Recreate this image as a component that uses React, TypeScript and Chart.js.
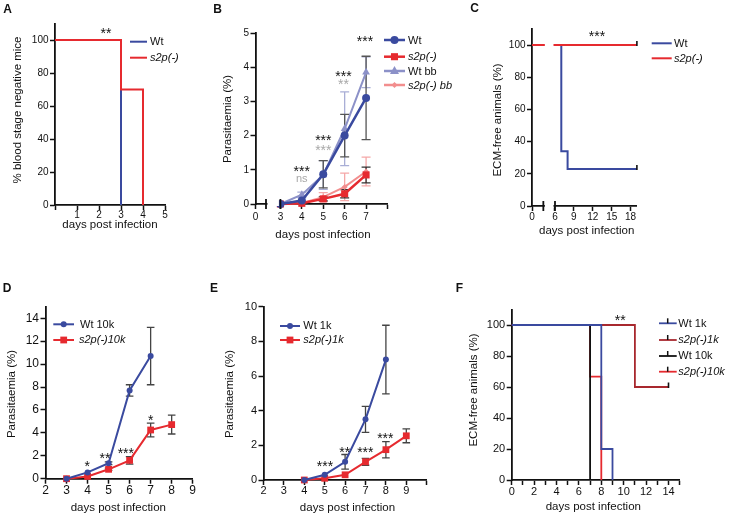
import React, { useEffect, useRef } from 'react';
import { Chart, registerables } from 'chart.js';
Chart.register(...registerables);

const W = 733, H = 516;
const FF = '"Liberation Sans", Arial, Helvetica, sans-serif';
const BLUE = '#3A4A9F';
const RED = '#E62A2F';
const DARKRED = '#A8282E';
const LBLUE = '#8C91C8';
const PINK = '#F28E8E';
const GREY = '#A8A8A8';
const INK = '#111';

// ---------- Panel A ----------
const A_WT_DAYS = [0, 3];
const A_WT_PCT = [100, 0];
const A_S2P_DAYS = [0, 3, 4];
const A_S2P_PCT = [100, 70, 0];
const A_X_TICKS = [0, 1, 2, 3, 4, 5];
const A_X_LABELS = ['', '1', '2', '3', '4', '5'];
const PCT_TICKS = [0, 20, 40, 60, 80, 100];
const PCT_LABELS = ['0', '20', '40', '60', '80', '100'];

// ---------- Panel B ----------
const B_DAYS = [3, 4, 5, 6, 7];
const B_WT = [0, 0.1, 0.87, 2.0, 3.1];
const B_WT_SD = [0, 0, 0.4, 0.62, 1.22];
const B_S2P = [0, 0.02, 0.15, 0.3, 0.85];
const B_S2P_SD = [0, 0, 0.06, 0.12, 0.23];
const B_WTBB = [0, 0.27, 0.85, 2.2, 3.85];
const B_WTBB_SD = [0, 0.08, 0.42, 1.08, 0.45];
const B_S2PBB = [0, 0.03, 0.2, 0.5, 0.95];
const B_S2PBB_SD = [0, 0, 0.13, 0.4, 0.42];
const B_X_TICKS = [0, 3, 4, 5, 6, 7, 8];
const B_X_LABELS = ['0', '3', '4', '5', '6', '7', ''];
const B_Y_TICKS = [0, 1, 2, 3, 4, 5];
const B_Y_LABELS = ['0', '1', '2', '3', '4', '5'];

// ---------- Panel C ----------
const C_WT_DAYS = [0, 7, 8, 19];
const C_WT_PCT = [100, 34, 23, 23];
const C_S2P_DAYS = [0, 19];
const C_S2P_PCT = [100, 100];
const C_X_TICKS = [0, 6, 9, 12, 15, 18];
const C_X_LABELS = ['0', '6', '9', '12', '15', '18'];

// ---------- Panel D ----------
const D_WT_DAYS = [3, 4, 5, 6, 7];
const D_WT = [0, 0.55, 1.35, 7.7, 10.7];
const D_WT_SD = [0, 0, 0.12, 0.5, 2.5];
const D_S2P_DAYS = [3, 4, 5, 6, 7, 8];
const D_S2P = [0, 0.2, 0.82, 1.6, 4.25, 4.72];
const D_S2P_SD = [0, 0, 0.1, 0.32, 0.6, 0.82];
const D_X_TICKS = [2, 3, 4, 5, 6, 7, 8, 9];
const D_X_LABELS = ['2', '3', '4', '5', '6', '7', '8', '9'];
const D_Y_TICKS = [0, 2, 4, 6, 8, 10, 12, 14];
const D_Y_LABELS = ['0', '2', '4', '6', '8', '10', '12', '14'];

// ---------- Panel E ----------
const E_WT_DAYS = [4, 5, 6, 7, 8];
const E_WT = [0, 0.3, 1.05, 3.5, 6.95];
const E_WT_SD = [0, 0, 0.42, 0.75, 1.98];
const E_S2P_DAYS = [4, 5, 6, 7, 8, 9];
const E_S2P = [0, 0.1, 0.3, 1.05, 1.75, 2.55];
const E_S2P_SD = [0, 0, 0, 0.2, 0.47, 0.4];
const E_X_TICKS = [2, 3, 4, 5, 6, 7, 8, 9, 10];
const E_X_LABELS = ['2', '3', '4', '5', '6', '7', '8', '9', ''];
const E_Y_TICKS = [0, 2, 4, 6, 8, 10];
const E_Y_LABELS = ['0', '2', '4', '6', '8', '10'];

// ---------- Panel F ----------
const F_WT1_DAYS = [0, 8, 9];
const F_WT1_PCT = [100, 20, 0];
const F_S2P1_DAYS = [0, 11, 14];
const F_S2P1_PCT = [100, 60, 60];
const F_WT10_DAYS = [0, 7];
const F_WT10_PCT = [100, 0];
const F_S2P10_DAYS = [0, 7, 8];
const F_S2P10_PCT = [100, 66.7, 0];
const F_X_TICKS = [0, 1, 2, 3, 4, 5, 6, 7, 8, 9, 10, 11, 12, 13, 14, 15];
const F_X_LABELS = ['0', '', '2', '', '4', '', '6', '', '8', '', '10', '', '12', '', '14', ''];

// broken axis mappings (day -> axis position)
const B_SEG2 = 1.163;
const bx = (d: number) => (d >= 3 ? d - 3 + B_SEG2 : d);
const C_SEG2 = 3.65;
const cx = (d: number) => (d >= 6 ? d - 6 + C_SEG2 : d);

type Box = { l: number; t: number; r: number; b: number };
type ErrSet = { x: number[]; y: number[]; e: number[]; color: string; cap: number; lw?: number };
type Spec = {
  box: Box;
  xMin: number; xMax: number; yMin: number; yMax: number;
  xTicks: number[]; xLabels: string[];
  yTicks: number[]; yLabels: string[];
  tickSize: number;
  xPad: number;
  datasets: any[];
  errs?: ErrSet[];
  draw?: (ctx: CanvasRenderingContext2D, chart: any) => void;
};

const YW = 40, XH = 30;

function axis(ticks: number[], labels: string[], size: number, pad: number) {
  return {
    type: 'linear',
    border: { display: true, color: INK, width: 1.8 },
    grid: { display: true, drawOnChartArea: false, drawTicks: true, tickLength: 5, tickWidth: 1.5, tickColor: INK, color: INK },
    ticks: {
      autoSkip: false, maxRotation: 0, minRotation: 0, padding: pad, color: INK,
      font: { family: FF, size },
      callback: (_v: number, i: number) => labels[i] ?? '',
    },
    afterBuildTicks: (s: any) => { s.ticks = ticks.map((v) => ({ value: v })); },
  };
}

function drawErr(chart: any, set: ErrSet) {
  const { ctx } = chart;
  const xs = chart.scales.x, ys = chart.scales.y;
  ctx.save();
  ctx.strokeStyle = set.color;
  ctx.lineWidth = set.lw ?? 1.3;
  set.x.forEach((xv, i) => {
    const v = set.y[i], e = set.e[i];
    if (v == null || !e) return;
    const px = xs.getPixelForValue(xv);
    const y1 = ys.getPixelForValue(v + e);
    const y2 = ys.getPixelForValue(Math.max(v - e, 0));
    ctx.beginPath();
    ctx.moveTo(px, y1); ctx.lineTo(px, y2);
    ctx.moveTo(px - set.cap, y1); ctx.lineTo(px + set.cap, y1);
    ctx.moveTo(px - set.cap, y2); ctx.lineTo(px + set.cap, y2);
    ctx.stroke();
  });
  ctx.restore();
}

function makeConfig(spec: Spec): any {
  const { box } = spec;
  return {
    type: 'line',
    data: { datasets: spec.datasets },
    options: {
      responsive: false,
      animation: false,
      devicePixelRatio: 1,
      events: [],
      layout: { padding: { left: box.l - YW, top: box.t, right: W - box.r, bottom: H - box.b - XH } },
      plugins: { legend: { display: false }, tooltip: { enabled: false } },
      scales: {
        x: { ...axis(spec.xTicks, spec.xLabels, spec.tickSize, spec.xPad), position: 'bottom', min: spec.xMin, max: spec.xMax, afterFit: (s: any) => { s.height = XH; } },
        y: { ...axis(spec.yTicks, spec.yLabels, spec.tickSize, 1.5), position: 'left', min: spec.yMin, max: spec.yMax, afterFit: (s: any) => { s.width = YW; } },
      },
    },
    plugins: [{
      id: 'extras',
      beforeDatasetsDraw(chart: any) { (spec.errs || []).forEach((s) => drawErr(chart, s)); },
      afterDraw(chart: any) { spec.draw && spec.draw(chart.ctx, chart); },
    }],
  };
}

function ds(label: string, xs: number[], ys: number[], color: string, extra: any = {}) {
  return {
    label,
    data: xs.map((x, i) => ({ x, y: ys[i] })),
    borderColor: color,
    backgroundColor: color,
    borderWidth: 2,
    pointRadius: 0,
    pointBorderWidth: 0,
    tension: 0,
    clip: false,
    ...extra,
  };
}

// ---------- drawing helpers ----------
function text(ctx: CanvasRenderingContext2D, s: string, x: number, y: number, font: string, color = INK, align: CanvasTextAlign = 'center', rot = 0) {
  ctx.save();
  ctx.translate(x, y);
  if (rot) ctx.rotate(rot);
  ctx.font = font;
  ctx.fillStyle = color;
  ctx.textAlign = align;
  ctx.textBaseline = 'middle';
  ctx.fillText(s, 0, 0);
  ctx.restore();
}
const TITLE = `11.5px ${FF}`;
const LEG = `11px ${FF}`;
const LEGI = `italic 11px ${FF}`;
function letter(ctx: CanvasRenderingContext2D, s: string, x: number, y: number) {
  ctx.save();
  ctx.font = `bold 12px ${FF}`;
  ctx.fillStyle = INK;
  ctx.textAlign = 'center';
  ctx.textBaseline = 'alphabetic';
  ctx.fillText(s, x, y + 4.3);
  ctx.restore();
}
function stars(ctx: CanvasRenderingContext2D, s: string, x: number, y: number, color = INK) {
  ctx.save();
  ctx.font = `14px ${FF}`;
  ctx.fillStyle = color;
  ctx.textAlign = 'center';
  ctx.textBaseline = 'alphabetic';
  ctx.fillText(s, x, y + 8);
  ctx.restore();
}
function xTitle(ctx: CanvasRenderingContext2D, x: number, y: number) { text(ctx, 'days post infection', x, y, TITLE); }
function yTitle(ctx: CanvasRenderingContext2D, s: string, x: number, y: number) { text(ctx, s, x, y, TITLE, INK, 'center', -Math.PI / 2); }

function marker(ctx: CanvasRenderingContext2D, kind: string, x: number, y: number, r: number, color: string) {
  ctx.save();
  ctx.fillStyle = color;
  ctx.beginPath();
  if (kind === 'circle') ctx.arc(x, y, r, 0, Math.PI * 2);
  else if (kind === 'rect') { const h = r * Math.SQRT1_2; ctx.rect(x - h, y - h, 2 * h, 2 * h); }
  else if (kind === 'triangle') { ctx.moveTo(x, y - r * 1.1); ctx.lineTo(x + r, y + r * 0.65); ctx.lineTo(x - r, y + r * 0.65); ctx.closePath(); }
  else if (kind === 'rectRot') { ctx.moveTo(x, y - r); ctx.lineTo(x + r, y); ctx.lineTo(x, y + r); ctx.lineTo(x - r, y); ctx.closePath(); }
  ctx.fill();
  ctx.restore();
}
function legLine(ctx: CanvasRenderingContext2D, x1: number, x2: number, y: number, color: string, lw = 2) {
  ctx.save();
  ctx.strokeStyle = color;
  ctx.lineWidth = lw;
  ctx.beginPath();
  ctx.moveTo(x1, y); ctx.lineTo(x2, y);
  ctx.stroke();
  ctx.restore();
}
function vline(ctx: CanvasRenderingContext2D, x: number, y1: number, y2: number, color = INK, lw = 1.8) {
  ctx.save();
  ctx.strokeStyle = color;
  ctx.lineWidth = lw;
  ctx.beginPath();
  ctx.moveTo(x, y1); ctx.lineTo(x, y2);
  ctx.stroke();
  ctx.restore();
}
function axisBreak(ctx: CanvasRenderingContext2D, chart: any, p1: number, p2: number) {
  const xs = chart.scales.x;
  const a = xs.getPixelForValue(p1), b = xs.getPixelForValue(p2);
  const base = chart.chartArea.bottom;
  ctx.save();
  ctx.fillStyle = '#fff';
  ctx.fillRect(a + 1.5, chart.chartArea.top - 2, b - a - 3, base - chart.chartArea.top + 4);
  ctx.restore();
  vline(ctx, a, base - 5, base + 5);
  vline(ctx, b, base - 5, base + 5);
}

// ---------- panel specs ----------
const specA = (): Spec => ({
  box: { l: 55, t: 23.5, r: 165, b: 205 },
  xMin: 0, xMax: 5, yMin: 0, yMax: 110,
  xTicks: A_X_TICKS, xLabels: A_X_LABELS, yTicks: PCT_TICKS, yLabels: PCT_LABELS, tickSize: 10, xPad: -0.5,
  datasets: [
    ds('s2p(-)', A_S2P_DAYS, A_S2P_PCT, RED, { stepped: true }),
    ds('Wt', A_WT_DAYS, A_WT_PCT, BLUE, { stepped: true }),
  ],
  draw: (ctx) => {
    letter(ctx, 'A', 7.5, 8.5);
    yTitle(ctx, '% blood stage negative mice', 18, 110);
    xTitle(ctx, 110, 225);
    stars(ctx, '**', 106, 29.5);
    legLine(ctx, 130, 147, 41.7, BLUE);
    text(ctx, 'Wt', 150, 42, LEG, INK, 'left');
    legLine(ctx, 130, 147, 57.7, RED);
    text(ctx, 's2p(-)', 150, 58, LEGI, INK, 'left');
  },
});

const specB = (): Spec => {
  const xs = B_DAYS.map(bx);
  return {
    box: { l: 255.5, t: 33, r: 387.5, b: 204 },
    xMin: 0, xMax: bx(8), yMin: 0, yMax: 5,
    xTicks: B_X_TICKS.map(bx), xLabels: B_X_LABELS, yTicks: B_Y_TICKS, yLabels: B_Y_LABELS, tickSize: 10, xPad: 2,
    datasets: [
      ds('Wt', xs, B_WT, BLUE, { borderWidth: 2.5, pointRadius: 4, pointStyle: 'circle' }),
      ds('s2p(-)', xs, B_S2P, RED, { borderWidth: 2.5, pointRadius: 5, pointStyle: 'rect' }),
      ds('Wt bb', xs, B_WTBB, LBLUE, { borderWidth: 2, pointRadius: 4.5, pointStyle: 'triangle' }),
      ds('s2p(-) bb', xs, B_S2PBB, PINK, { borderWidth: 2, pointRadius: 3, pointStyle: 'rectRot' }),
    ],
    errs: [
      { x: xs, y: B_S2PBB, e: B_S2PBB_SD, color: '#F5A8A8', cap: 4.5 },
      { x: xs, y: B_WTBB, e: B_WTBB_SD, color: '#A9AED6', cap: 4.5 },
      { x: xs, y: B_S2P, e: B_S2P_SD, color: '#333', cap: 4.5 },
      { x: xs, y: B_WT, e: B_WT_SD, color: '#555', cap: 4.5 },
    ],
    draw: (ctx, chart) => {
      axisBreak(ctx, chart, 0.49, bx(3));
      letter(ctx, 'B', 217.5, 8.5);
      yTitle(ctx, 'Parasitaemia (%)', 228, 119);
      xTitle(ctx, 323, 235);
      stars(ctx, '***', 301.7, 168);
      text(ctx, 'ns', 301.7, 178.5, `11px ${FF}`, GREY);
      stars(ctx, '***', 323.3, 137);
      stars(ctx, '***', 323.3, 147, GREY);
      stars(ctx, '***', 343.5, 72.7);
      stars(ctx, '**', 343.5, 81, GREY);
      stars(ctx, '***', 365, 38);
      const items: [string, string, string, number, number, string][] = [
        ['Wt', BLUE, 'circle', 4, 40, LEG],
        ['s2p(-)', RED, 'rect', 5, 56.7, LEGI],
        ['Wt bb', LBLUE, 'triangle', 4.5, 71, LEG],
        ['s2p(-) bb', PINK, 'rectRot', 3, 85, LEGI],
      ];
      items.forEach(([s, col, k, r, y, f]) => {
        legLine(ctx, 384, 405, y, col, 2.5);
        marker(ctx, k, 394.5, y, r, col);
        text(ctx, s, 408, y + 0.5, f, INK, 'left');
      });
    },
  };
};

const specC = (): Spec => ({
  box: { l: 532, t: 29, r: 532 + cx(19) * 6.3, b: 206 },
  xMin: 0, xMax: cx(19), yMin: 0, yMax: 110,
  xTicks: C_X_TICKS.map(cx), xLabels: C_X_LABELS, yTicks: PCT_TICKS, yLabels: PCT_LABELS, tickSize: 10, xPad: 0,
  datasets: [
    ds('s2p(-)', C_S2P_DAYS.map(cx), C_S2P_PCT, RED, { stepped: true }),
    ds('Wt', C_WT_DAYS.map(cx), C_WT_PCT, BLUE, { stepped: true }),
  ],
  draw: (ctx, chart) => {
    axisBreak(ctx, chart, 1.8, cx(6));
    const xs = chart.scales.x, ys = chart.scales.y;
    const ex = xs.getPixelForValue(cx(19));
    vline(ctx, ex, ys.getPixelForValue(100) - 4, ys.getPixelForValue(100) + 1, INK, 1.6);
    vline(ctx, ex, ys.getPixelForValue(23) - 4, ys.getPixelForValue(23) + 1, INK, 1.6);
    letter(ctx, 'C', 474.5, 8);
    yTitle(ctx, 'ECM-free animals (%)', 498, 120);
    xTitle(ctx, 586.7, 231);
    stars(ctx, '***', 597, 33.3);
    legLine(ctx, 651.7, 671.7, 43.3, BLUE);
    text(ctx, 'Wt', 674, 43.5, LEG, INK, 'left');
    legLine(ctx, 651.7, 671.7, 58.3, RED);
    text(ctx, 's2p(-)', 674, 58.5, LEGI, INK, 'left');
  },
});

const specD = (): Spec => ({
  box: { l: 45.5, t: 306.8, r: 192.7, b: 478.7 },
  xMin: 2, xMax: 9, yMin: 0, yMax: 15,
  xTicks: D_X_TICKS, xLabels: D_X_LABELS, yTicks: D_Y_TICKS, yLabels: D_Y_LABELS, tickSize: 12, xPad: 0,
  datasets: [
    ds('Wt 10k', D_WT_DAYS, D_WT, BLUE, { pointRadius: 3, pointStyle: 'circle' }),
    ds('s2p(-)10k', D_S2P_DAYS, D_S2P, RED, { pointRadius: 4.8, pointStyle: 'rect' }),
  ],
  errs: [
    { x: D_S2P_DAYS, y: D_S2P, e: D_S2P_SD, color: '#444', cap: 3.8 },
    { x: D_WT_DAYS, y: D_WT, e: D_WT_SD, color: '#444', cap: 3.8 },
  ],
  draw: (ctx) => {
    letter(ctx, 'D', 7.2, 287.5);
    yTitle(ctx, 'Parasitaemia (%)', 11.7, 394);
    xTitle(ctx, 118.3, 508);
    stars(ctx, '*', 87.3, 463.3);
    stars(ctx, '**', 105, 455);
    stars(ctx, '***', 125.8, 450);
    stars(ctx, '*', 150.7, 416.7);
    legLine(ctx, 53.3, 74, 324.3, BLUE);
    marker(ctx, 'circle', 63.7, 324.3, 3, BLUE);
    text(ctx, 'Wt 10k', 80, 324.5, LEG, INK, 'left');
    legLine(ctx, 53.3, 74, 340, RED);
    marker(ctx, 'rect', 63.7, 340, 4.8, RED);
    text(ctx, 's2p(-)10k', 79, 340.2, LEGI, INK, 'left');
  },
});

const specE = (): Spec => ({
  box: { l: 263.5, t: 306.7, r: 426.7, b: 480 },
  xMin: 2, xMax: 10, yMin: 0, yMax: 10,
  xTicks: E_X_TICKS, xLabels: E_X_LABELS, yTicks: E_Y_TICKS, yLabels: E_Y_LABELS, tickSize: 11, xPad: -1,
  datasets: [
    ds('Wt 1k', E_WT_DAYS, E_WT, BLUE, { pointRadius: 3, pointStyle: 'circle' }),
    ds('s2p(-)1k', E_S2P_DAYS, E_S2P, RED, { pointRadius: 4.8, pointStyle: 'rect' }),
  ],
  errs: [
    { x: E_S2P_DAYS, y: E_S2P, e: E_S2P_SD, color: '#444', cap: 3.8 },
    { x: E_WT_DAYS, y: E_WT, e: E_WT_SD, color: '#444', cap: 3.8 },
  ],
  draw: (ctx) => {
    letter(ctx, 'E', 214, 287.5);
    yTitle(ctx, 'Parasitaemia (%)', 230, 394);
    xTitle(ctx, 347.5, 508);
    stars(ctx, '***', 325, 463.3);
    stars(ctx, '**', 344.7, 449.3);
    stars(ctx, '***', 365.3, 449.3);
    stars(ctx, '***', 385.3, 435);
    legLine(ctx, 280, 300, 326, BLUE);
    marker(ctx, 'circle', 290, 326, 3, BLUE);
    text(ctx, 'Wt 1k', 303.3, 326.2, LEG, INK, 'left');
    legLine(ctx, 280, 300, 340, RED);
    marker(ctx, 'rect', 290, 340, 4.8, RED);
    text(ctx, 's2p(-)1k', 303.3, 340.2, LEGI, INK, 'left');
  },
});

const specF = (): Spec => ({
  box: { l: 511.7, t: 309.5, r: 679.7, b: 480 },
  xMin: 0, xMax: 15, yMin: 0, yMax: 110,
  xTicks: F_X_TICKS, xLabels: F_X_LABELS, yTicks: PCT_TICKS, yLabels: PCT_LABELS, tickSize: 11, xPad: 0,
  datasets: [
    ds('Wt 1k', F_WT1_DAYS, F_WT1_PCT, BLUE, { stepped: true, borderWidth: 1.8 }),
    ds('Wt 10k', F_WT10_DAYS, F_WT10_PCT, INK, { stepped: true, borderWidth: 1.8 }),
    ds('s2p(-)10k', F_S2P10_DAYS, F_S2P10_PCT, RED, { stepped: true, borderWidth: 1.8 }),
    ds('s2p(-)1k', F_S2P1_DAYS, F_S2P1_PCT, DARKRED, { stepped: true, borderWidth: 1.8 }),
  ],
  draw: (ctx, chart) => {
    const xs = chart.scales.x, ys = chart.scales.y;
    const ex = xs.getPixelForValue(14), ey = ys.getPixelForValue(60);
    vline(ctx, ex, ey - 4.5, ey + 1, INK, 1.6);
    letter(ctx, 'F', 459.5, 287.5);
    yTitle(ctx, 'ECM-free animals (%)', 474, 390);
    xTitle(ctx, 593.3, 507);
    stars(ctx, '**', 620.3, 316.7);
    const items: [string, string, number][] = [
      ['Wt 1k', BLUE, 323.3],
      ['s2p(-)1k', DARKRED, 340],
      ['Wt 10k', INK, 356],
      ['s2p(-)10k', RED, 371.7],
    ];
    items.forEach(([s, col, y], i) => {
      legLine(ctx, 659, 676.7, y, col, 1.8);
      vline(ctx, 667.7, y - 5, y, INK, 1.5);
      text(ctx, s, 678.3, y + 0.3, i % 2 === 1 ? LEGI : LEG, INK, 'left');
    });
  },
});

function Layer({ make }: { make: () => Spec }) {
  const ref = useRef<HTMLCanvasElement>(null);
  useEffect(() => {
    const chart = new Chart(ref.current as HTMLCanvasElement, makeConfig(make()));
    return () => chart.destroy();
  }, []);
  return (
    <canvas
      ref={ref}
      width={W}
      height={H}
      style={{ position: 'absolute', left: 0, top: 0, width: W, height: H }}
    />
  );
}

export default function App() {
  return (
    <div style={{ position: 'absolute', left: 0, top: 0, width: W, height: H, background: '#fff', overflow: 'hidden' }}>
      <Layer make={specA} />
      <Layer make={specB} />
      <Layer make={specC} />
      <Layer make={specD} />
      <Layer make={specE} />
      <Layer make={specF} />
    </div>
  );
}
